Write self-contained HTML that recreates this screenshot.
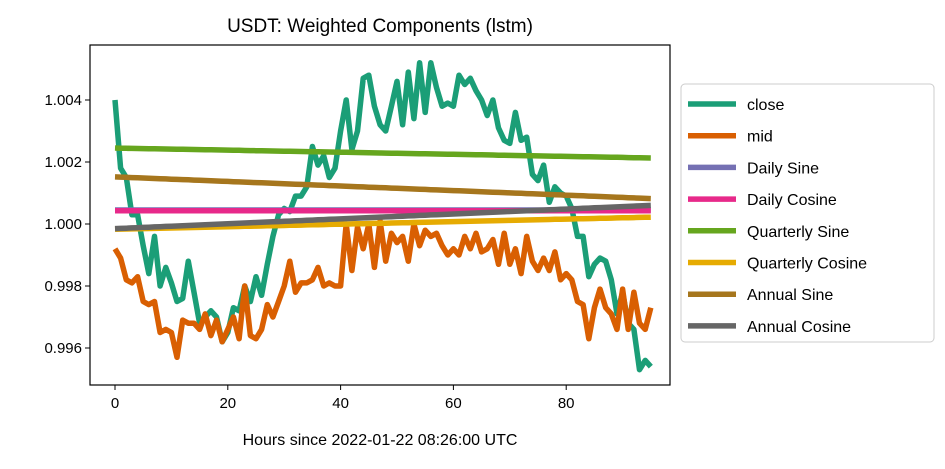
<!DOCTYPE html>
<html><head><meta charset="utf-8"><style>
body{margin:0;background:#fff;font-family:"Liberation Sans",sans-serif;}
svg text{font-family:"Liberation Sans",sans-serif;fill:#000}
</style></head><body>
<svg id="c" width="945" height="464" xmlns="http://www.w3.org/2000/svg">
<rect width="945" height="464" fill="#fff"/>
<text x="380" y="32" font-size="19" text-anchor="middle">USDT: Weighted Components (lstm)</text>
<g id="plot"></g>
<rect x="90" y="45" width="580" height="340" fill="none" stroke="#000" stroke-width="1.2"/>
<g id="axes"></g>
<text x="380" y="445" font-size="16" text-anchor="middle">Hours since 2022-01-22 08:26:00 UTC</text>
<g id="legend"></g>
</svg>
<script>
const closeVals=[1.0040,1.0018,1.0015,1.0003,1.0003,0.9993,0.9984,0.9996,0.9980,0.9986,0.9981,0.9975,0.9976,0.9988,0.9978,0.9968,0.9970,0.9972,0.9970,0.9962,0.9965,0.9973,0.9972,0.9980,0.9975,0.9983,0.9977,0.9987,0.9996,1.0003,1.0005,1.0004,1.0009,1.0009,1.0012,1.0025,1.0019,1.0022,1.0015,1.0018,1.0030,1.0040,1.0024,1.0030,1.0047,1.0048,1.0038,1.0032,1.0030,1.0038,1.0046,1.0032,1.0049,1.0034,1.0052,1.0036,1.0052,1.0044,1.0038,1.0039,1.0038,1.0048,1.0045,1.0047,1.0043,1.0040,1.0035,1.0040,1.0031,1.0027,1.0026,1.0036,1.0027,1.0028,1.0016,1.0014,1.0019,1.0007,1.0012,1.0010,1.0009,1.0005,0.9996,0.9996,0.9983,0.9987,0.9989,0.9988,0.9982,0.9971,0.9978,0.9968,0.9966,0.9953,0.9956,0.9954];
const midVals=[0.9992,0.9989,0.9982,0.9981,0.9983,0.9975,0.9974,0.9975,0.9965,0.9966,0.9965,0.9957,0.9969,0.9968,0.9968,0.9966,0.9971,0.9964,0.9969,0.9962,0.9966,0.9970,0.9963,0.9980,0.9964,0.9963,0.9966,0.9974,0.9970,0.9975,0.9980,0.9988,0.9978,0.9981,0.9981,0.9982,0.9986,0.9980,0.9981,0.9980,0.9980,1.0000,0.9985,0.9999,0.9992,1.0000,0.9986,1.0001,0.9988,0.9997,0.9994,0.9996,0.9988,1.0000,0.9993,0.9998,0.9996,0.9997,0.9993,0.9990,0.9992,0.9990,0.9996,0.9992,0.9997,0.9991,0.9992,0.9995,0.9987,0.9997,0.9987,0.9992,0.9984,0.9996,0.9988,0.9985,0.9989,0.9985,0.9991,0.9982,0.9984,0.9982,0.9975,0.9974,0.9963,0.9973,0.9979,0.9973,0.9971,0.9966,0.9979,0.9966,0.9978,0.9968,0.9966,0.9973];
const seriesNames=["close","mid","Daily Sine","Daily Cosine","Quarterly Sine","Quarterly Cosine","Annual Sine","Annual Cosine"];
const seriesColors=["#1b9e77","#d95f02","#7570b3","#e7298a","#66a61e","#e6ab02","#a6761d","#666666"];
const lineStart=[1.00045,1.00043,1.00245,0.99983,1.00152,0.99985];
const lineEnd=[1.00045,1.00043,1.00213,1.00022,1.00082,1.00060];
const xTicks=[0,20,40,60,80];
const yTicks=[0.996,0.998,1.000,1.002,1.004];
const yTickLabels=["0.996","0.998","1.000","1.002","1.004"];

const X=h=>115+h*5.64;
const Y=v=>224-(v-1.0)*31000;
const NS="http://www.w3.org/2000/svg";
function mk(tag,attrs,parent){const e=document.createElementNS(NS,tag);for(const k in attrs)e.setAttribute(k,attrs[k]);parent.appendChild(e);return e;}
const plot=document.getElementById('plot'),axes=document.getElementById('axes'),leg=document.getElementById('legend');
const n=closeVals.length;
const all=[closeVals,midVals];
for(let i=0;i<6;i++){const a=[];for(let j=0;j<n;j++)a.push(lineStart[i]+(lineEnd[i]-lineStart[i])*j/(n-1));all.push(a);}
const order=[0,1,2,3,4,5,6,7];
order.forEach(i=>{
  const pts=all[i].map((v,j)=>X(j).toFixed(1)+','+Y(v).toFixed(1)).join(' ');
  const p=mk('polyline',{points:pts,fill:'none',stroke:seriesColors[i],'stroke-width':5.5,'stroke-linejoin':'round'},plot);
  
  
});
xTicks.forEach(t=>{
  const l=mk('line',{x1:X(t),x2:X(t),y1:385,y2:390,stroke:'#000'},axes);
  
  
  const tx=mk('text',{x:X(t),y:408,'font-size':15,'text-anchor':'middle'},axes);tx.textContent=t;
  
  
});
yTicks.forEach((t,i)=>{
  const l=mk('line',{x1:85,x2:90,y1:Y(t),y2:Y(t),stroke:'#000'},axes);
  
  
  const tx=mk('text',{x:82,y:Y(t)+5,'font-size':15,'text-anchor':'end'},axes);tx.textContent=yTickLabels[i];
  
  
});
const box=mk('rect',{x:681,y:84,width:253,height:258,rx:4,fill:'#fff',stroke:'#ccc'},leg);


seriesNames.forEach((s,i)=>{
  const y=104+i*31.7;
  const l=mk('line',{x1:688,x2:736,y1:y,y2:y,stroke:seriesColors[i],'stroke-width':5.5},leg);
  
  
  const t=mk('text',{x:747,y:y+6,'font-size':16},leg);t.textContent=s;
  
  
});
</script>
</body></html>
